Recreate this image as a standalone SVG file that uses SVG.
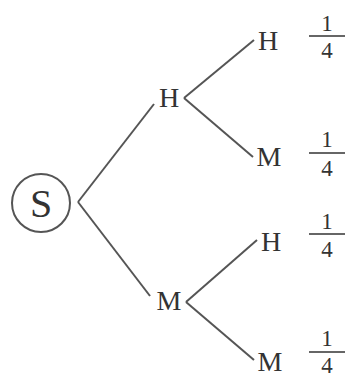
<svg xmlns="http://www.w3.org/2000/svg" width="345" height="378" viewBox="0 0 345 378">
<style>
.t{font-family:"Liberation Serif",serif;fill:#333;text-anchor:middle}
.n{font-size:28px}
.f{font-size:23px}
.e{stroke:#555;stroke-width:2;fill:none}
.b{stroke:#666;stroke-width:2}
</style>
<rect width="345" height="378" fill="#fff"/>
<g id="connectors">
<line class="e" x1="78" y1="202" x2="154" y2="104"/>
<line class="e" x1="78" y1="202" x2="150" y2="296"/>
<line class="e" x1="184" y1="98" x2="254" y2="40"/>
<line class="e" x1="184" y1="98" x2="253" y2="157"/>
<line class="e" x1="186" y1="302" x2="257" y2="240"/>
<line class="e" x1="186" y1="302" x2="254" y2="360"/>
</g>
<g id="S">
<circle cx="41" cy="203" r="29" fill="none" stroke="#555" stroke-width="2"/>
<text class="t" x="41" y="217" font-size="40">S</text>
</g>
<g id="H1"><text class="t n" x="169" y="107">H</text></g>
<g id="M1"><text class="t n" x="169" y="310">M</text></g>
<g id="HH"><text class="t n" x="268" y="50">H</text></g>
<g id="HM"><text class="t n" x="269" y="166">M</text></g>
<g id="MH"><text class="t n" x="271" y="251">H</text></g>
<g id="MM"><text class="t n" x="270" y="371">M</text></g>
<g id="p1"><text class="t f" x="327" y="31">1</text><line class="b" x1="309" y1="36" x2="345" y2="36"/><text class="t f" x="327" y="58">4</text></g>
<g id="p2"><text class="t f" x="327" y="147">1</text><line class="b" x1="309" y1="153" x2="345" y2="153"/><text class="t f" x="327" y="176">4</text></g>
<g id="p3"><text class="t f" x="327" y="229">1</text><line class="b" x1="309" y1="234" x2="345" y2="234"/><text class="t f" x="327" y="257">4</text></g>
<g id="p4"><text class="t f" x="327" y="346">1</text><line class="b" x1="309" y1="352" x2="345" y2="352"/><text class="t f" x="327" y="373">4</text></g>
</svg>
